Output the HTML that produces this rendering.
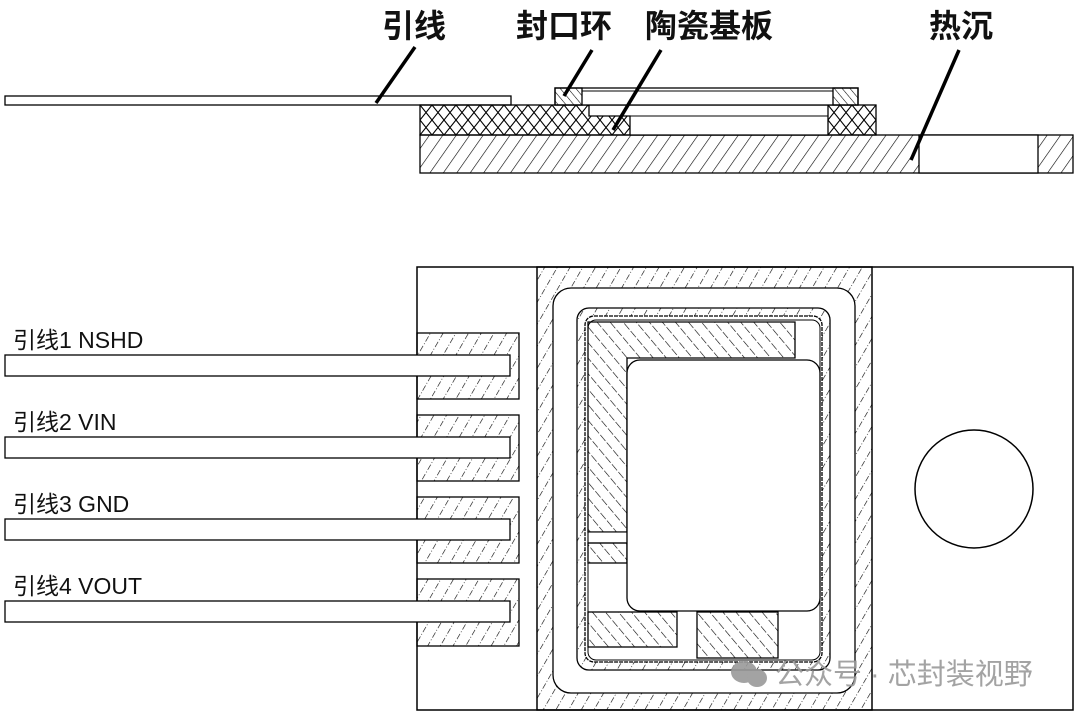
<!DOCTYPE html>
<html><head><meta charset="utf-8"><style>
html,body{margin:0;padding:0;background:#fff;width:1080px;height:715px;overflow:hidden}
svg{display:block}
</style></head><body>
<svg width="1080" height="715" viewBox="0 0 1080 715" xmlns="http://www.w3.org/2000/svg">
<defs>
<pattern id="h1" patternUnits="userSpaceOnUse" width="11" height="11" patternTransform="rotate(35)">
<line x1="0" y1="0" x2="0" y2="11" stroke="#000" stroke-width="1.2"/></pattern>
<pattern id="h2" patternUnits="userSpaceOnUse" width="11" height="11" patternTransform="rotate(30)">
<line x1="0" y1="0" x2="0" y2="11" stroke="#000" stroke-width="1.2" stroke-dasharray="6 2 1 2"/></pattern>
<pattern id="h3" patternUnits="userSpaceOnUse" width="10" height="10" patternTransform="rotate(-40)">
<line x1="0" y1="0" x2="0" y2="10" stroke="#000" stroke-width="1.2" stroke-dasharray="7 2 1 2"/></pattern>
<pattern id="h4" patternUnits="userSpaceOnUse" width="6" height="6" patternTransform="rotate(-40)">
<line x1="0" y1="0" x2="0" y2="6" stroke="#000" stroke-width="1.1"/></pattern>
<pattern id="xh" patternUnits="userSpaceOnUse" width="12" height="15">
<path d="M0 0L12 15M12 0L0 15" stroke="#000" stroke-width="1.1" fill="none"/></pattern>
</defs>

<g font-family="Liberation Sans, Noto Sans CJK SC, sans-serif" font-size="32" font-weight="bold" fill="#111">
<text x="382" y="37">引线</text>
<text x="516" y="37">封口环</text>
<text x="645" y="37">陶瓷基板</text>
<text x="929" y="37">热沉</text>
</g>

<!-- side view -->
<rect x="5" y="96" width="506" height="9" fill="#fff" stroke="#000" stroke-width="1.3"/>
<rect x="420" y="135" width="653" height="38" fill="url(#h1)" stroke="#000" stroke-width="1.3"/>
<rect x="919" y="135" width="119" height="38" fill="#fff" stroke="#000" stroke-width="1.3"/>
<rect x="420" y="105" width="456" height="30" fill="url(#xh)" stroke="#000" stroke-width="1.3"/>
<path d="M589 105H828V135H630V116H589Z" fill="#fff" stroke="#000" stroke-width="1.3"/>
<line x1="630" y1="116" x2="828" y2="116" stroke="#000"/>
<rect x="555" y="88" width="303" height="17" fill="#fff" stroke="#000" stroke-width="1.3"/>
<line x1="582" y1="91" x2="833" y2="91" stroke="#000"/>
<rect x="555" y="88" width="27" height="17" fill="url(#h4)" stroke="#000" stroke-width="1.3"/>
<rect x="833" y="88" width="25" height="17" fill="url(#h4)" stroke="#000" stroke-width="1.3"/>
<g stroke="#000" stroke-width="3.5">
<line x1="415" y1="47" x2="376" y2="103"/>
<line x1="592" y1="50" x2="564" y2="96"/>
<line x1="661" y1="50" x2="613" y2="130"/>
<line x1="959" y1="50" x2="911" y2="160"/>
</g>

<!-- top view -->
<rect x="417" y="267" width="656" height="443" fill="#fff" stroke="#000" stroke-width="1.5"/>
<rect x="537" y="267" width="335" height="443" fill="url(#h2)" stroke="#000" stroke-width="1.5"/>
<rect x="553" y="288" width="302" height="405" rx="18" fill="#fff" stroke="#000" stroke-width="1.3"/>
<rect x="577" y="308" width="253" height="362" rx="12" fill="url(#h2)" stroke="#000" stroke-width="1.3"/>
<rect x="585" y="316" width="237" height="346" rx="9" fill="#fff" stroke="#000" stroke-width="1.3" stroke-dasharray="4 1"/>
<rect x="588" y="320" width="232" height="340" rx="8" fill="#fff" stroke="#000" stroke-width="1"/>
<path d="M588 322H795V358H627V532H588Z" fill="url(#h3)" stroke="#000" stroke-width="1.3"/>
<rect x="588" y="532" width="39" height="11" fill="#fff" stroke="#000" stroke-width="1.1"/>
<rect x="588" y="543" width="39" height="20" fill="url(#h3)" stroke="#000" stroke-width="1.3"/>
<rect x="588" y="612" width="89" height="35" fill="url(#h3)" stroke="#000" stroke-width="1.3"/>
<rect x="697" y="612" width="81" height="46" fill="url(#h3)" stroke="#000" stroke-width="1.3"/>
<rect x="627" y="360" width="193" height="251" rx="13" fill="#fff" stroke="#000" stroke-width="1.3"/>
<circle cx="974" cy="489" r="59" fill="#fff" stroke="#000" stroke-width="1.5"/>

<g stroke="#000" stroke-width="1.3">
<rect x="417" y="333" width="102" height="66" fill="url(#h2)"/>
<rect x="417" y="415" width="102" height="66" fill="url(#h2)"/>
<rect x="417" y="497" width="102" height="66" fill="url(#h2)"/>
<rect x="417" y="579" width="102" height="67" fill="url(#h2)"/>
<rect x="5" y="355" width="505" height="21" fill="#fff"/>
<rect x="5" y="437" width="505" height="21" fill="#fff"/>
<rect x="5" y="519" width="505" height="21" fill="#fff"/>
<rect x="5" y="601" width="505" height="21" fill="#fff"/>
</g>
<g font-family="Liberation Sans, Noto Sans CJK SC, sans-serif" font-size="23" fill="#111">
<text x="13" y="348">引线1 NSHD</text>
<text x="13" y="430">引线2 VIN</text>
<text x="13" y="512">引线3 GND</text>
<text x="13" y="594">引线4 VOUT</text>
</g>

<g fill="#9a9a9a" opacity="0.9">
<ellipse cx="744" cy="672" rx="13" ry="11"/>
<ellipse cx="757" cy="678" rx="10" ry="9"/>
<text x="775" y="684" font-family="Liberation Sans, Noto Sans CJK SC, sans-serif" font-size="29">公众号 · 芯封装视野</text>
</g>
</svg>
</body></html>
